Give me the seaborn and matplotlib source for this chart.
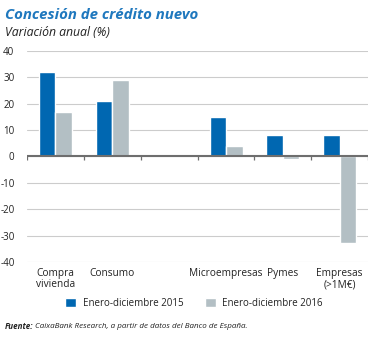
import matplotlib
matplotlib.use("Agg")
import matplotlib.pyplot as plt
import seaborn as sns
import numpy as np
import pandas as pd

categories = ["Compra\nvivienda", "Consumo", " ", "Microempresas", "Pymes", "Empresas\n(>1M€)"]
series_names = ["Enero-diciembre 2015", "Enero-diciembre 2016"]
values_2015 = [32, 21, np.nan, 15, 8, 8]
values_2016 = [17, 29, np.nan, 4, -1, -33]
yticks = [-40, -30, -20, -10, 0, 10, 20, 30, 40]

colors = ["#0067b1", "#b3bfc4"]

sns.set_theme(style="white")
plt.rcParams['font.family'] = ['Open Sans', 'DejaVu Sans']

df = pd.DataFrame({
    "cat": categories * 2,
    "serie": [series_names[0]] * len(categories) + [series_names[1]] * len(categories),
    "val": values_2015 + values_2016,
})

fig = plt.figure(figsize=(3.77, 3.38), dpi=100)
ax = fig.add_axes([0.0716, 0.225, 0.905, 0.624])

sns.barplot(data=df, x="cat", y="val", hue="serie", order=categories,
            hue_order=series_names, palette=colors, width=0.58, gap=0,
            saturation=1, ax=ax, legend=True)

ax.set_ylim(-40, 40)
ax.set_xlim(-0.5, len(categories) - 0.5)
ax.set_yticks(yticks)
ax.set_yticklabels([str(t) for t in yticks], fontsize=7, color="#222222")
ax.yaxis.grid(True, color="#cccccc", linewidth=0.8)
ax.set_axisbelow(True)
for s in ax.spines.values():
    s.set_visible(False)
ax.tick_params(axis="y", length=0, pad=9)
ax.tick_params(axis="x", length=0, pad=4)
ax.set_xticks(range(len(categories)))
ax.set_xticklabels(categories, fontsize=7.3, color="#222222", linespacing=1.1)
ax.set_xlabel("")
ax.set_ylabel("")

ax.axhline(0, color="#6e6e6e", linewidth=1.5, zorder=3)
bounds = np.arange(len(categories) + 1) - 0.5
ax.vlines(bounds, -1.3, 0, color="#6e6e6e", linewidth=0.9, zorder=3)

leg = ax.legend(loc="upper center", bbox_to_anchor=(0.49, -0.13), ncol=2,
                frameon=False, fontsize=7, handlelength=1.1, handleheight=1.1,
                columnspacing=2.2, handletextpad=0.7)
for t in leg.get_texts():
    t.set_color("#222222")

fig.text(0.013, 0.955, "Concesión de crédito nuevo", fontsize=10.8,
         fontweight="bold", fontstyle="italic", color="#1f78be", va="center")
fig.text(0.013, 0.905, "Variación anual (%)", fontsize=8.8,
         fontstyle="italic", color="#222222", va="center")
t1 = fig.text(0.013, 0.033, "Fuente:", fontsize=5.8, fontweight="bold",
              fontstyle="italic", color="#222222", va="center")
fig.canvas.draw()
bb = t1.get_window_extent()
x2 = fig.transFigure.inverted().transform((bb.x1, bb.y0))[0]
fig.text(x2 + 0.004, 0.033, "CaixaBank Research, a partir de datos del Banco de España.",
         fontsize=5.8, fontstyle="italic", color="#222222", va="center")

fig.savefig("out.png", dpi=100)
